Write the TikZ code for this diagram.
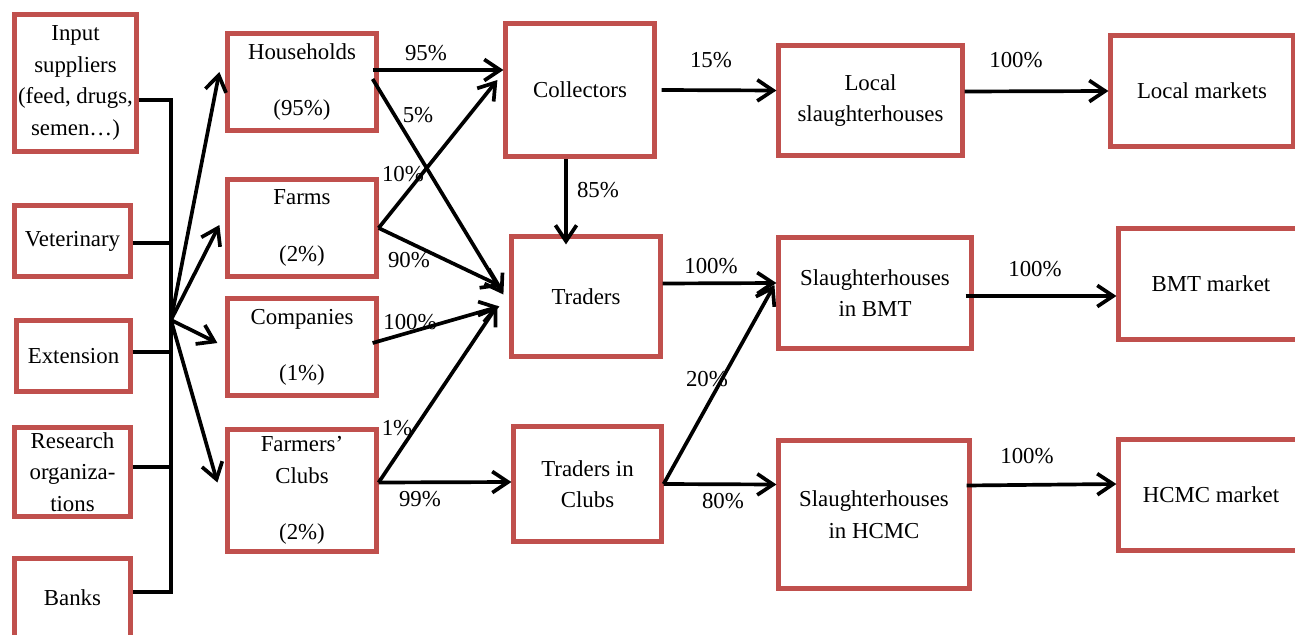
\documentclass[tikz,border=0pt]{standalone}
\usepackage{fontspec}
\setmainfont{Liberation Serif}
\usetikzlibrary{arrows.meta,calc}
\definecolor{boxred}{RGB}{192,80,77}
\tikzset{
    box/.style={draw=boxred,line width=2.4pt,align=center,inner sep=0pt,font=\fontsize{13}{18}\selectfont},
    sz/.style 2 args={minimum width=#1*0.02cm,minimum height=#2*0.02cm},
    flow/.style={->,line width=2.1pt},
    bus/.style={line width=2.1pt},
    pct/.style={inner sep=0pt,font=\fontsize{13}{15}\selectfont}
}

\begin{document}
\begin{tikzpicture}[x=0.02cm,y=-0.02cm,>={Straight Barb[length=9pt,width=12pt]}]
    \useasboundingbox (0,0) rectangle (1295,635);
    \clip (0,0) rectangle (1295,635);

    % support services
    \node[box,sz={122}{137}] (sup) at (75.5,83) {Input\\suppliers\\(feed, drugs,\\semen…)};
    \node[box,sz={116}{71}] (vet) at (72.5,241) {Veterinary};
    \node[box,sz={114}{71}] (ext) at (73.5,356) {Extension};
    \node[box,sz={116}{89}] (res) at (72.5,472) {Research\\organiza-\\tions};
    \node[box,sz={116}{79}] (bank) at (72.5,598) {Banks};

    % producers
    \node[box,sz={149}{97}] (hh) at (302,82) {Households\\[14pt](95\%)};
    \node[box,sz={149}{97}] (farm) at (302,228) {Farms\\[14pt](2\%)};
    \node[box,sz={149}{97}] (comp) at (302,347) {Companies\\[14pt](1\%)};
    \node[box,sz={149}{122}] (club) at (302,490.5) {Farmers’\\Clubs\\[14pt](2\%)};

    % middlemen
    \node[box,sz={149}{133}] (col) at (580,90) {Collectors};
    \node[box,sz={149}{120}] (trd) at (586,296.5) {Traders};
    \node[box,sz={148}{115}] (tic) at (587.5,484) {Traders in\\Clubs};

    % slaughterhouses and markets
    \node[box,sz={184}{110}] (lsl) at (870.5,100.5) {Local\\slaughterhouses};
    \node[box,sz={193}{111}] (sbmt) at (875,293) {Slaughterhouses\\in BMT};
    \node[box,sz={191}{148}] (shcm) at (874,514.5) {Slaughterhouses\\in HCMC};
    \node[box,sz={183}{111}] (lmk) at (1202,91) {Local markets};
    \node[box,sz={185}{111}] (bmk) at (1211,284) {BMT market};
    \node[box,sz={185}{111}] (hmk) at (1211,495) {HCMC market};

    % services bus
    \coordinate (hub) at (171,320);
    \coordinate (bustop) at (171,100);
    \coordinate (busbot) at (171,592);
    \draw[bus] ($(sup.east)+(0,17)$) -- (bustop) -- (busbot) -- ($(bank.east)+(0,-6)$);
    \draw[bus] ($(vet.east)+(0,2)$) -- ($(vet.east -| bustop)+(0,2)$);
    \draw[bus] ($(ext.east)+(0,-4)$) -- ($(ext.east -| bustop)+(0,-4)$);
    \draw[bus] ($(res.east)+(0,-5)$) -- ($(res.east -| bustop)+(0,-5)$);

    \draw[flow] (hub) -- ($(hh.west)+(-6,-10)$);
    \draw[flow] (hub) -- ($(farm.west)+(-6,-3)$);
    \draw[flow] (hub) -- ($(comp.west)+(-8,-4)$);
    \draw[flow] (hub) -- ($(club.west)+(-8,-8)$);

    % flows of animals
    \draw[flow] ($(hh.east)+(-6,-12)$) -- ($(col.west)+(0,-20)$);
    \draw[flow] ($(hh.east)+(-6,-3)$) -- ($(trd.west)+(-6,-2)$);
    \draw[flow] (farm.east) -- ($(col.west)+(-6,-10)$);
    \draw[flow] (farm.east) -- ($(trd.west)+(-8,-10)$);
    \draw[flow] ($(comp.east)+(-6,-4)$) -- ($(trd.west)+(-10,10)$);
    \draw[flow] ($(club.east)+(0,-8)$) -- ($(trd.west)+(-12,9)$);
    \draw[flow] ($(club.east)+(0,-8)$) -- ($(tic.west)+(0,-2)$);
    \draw[flow] ($(col.south)+(-14,0)$) -- ($(trd.north)+(-20,10)$);
    \draw[flow] ($(col.east)+(5,0)$) -- ($(lsl.west)+(0,-10)$);
    \draw[flow] ($(trd.east)+(0,-13)$) -- ($(sbmt.west)+(0,-10)$);
    \draw[flow] (tic.east) -- ($(sbmt.west)+(-2,-8)$);
    \draw[flow] (tic.east) -- ($(shcm.west)+(0,-30)$);
    \draw[flow] ($(lsl.east)+(0,-9)$) -- (lmk.west);
    \draw[flow] ($(sbmt.east)+(-8,3)$) -- ($(bmk.west)+(0,12)$);
    \draw[flow] ($(shcm.east)+(-5,-29)$) -- ($(hmk.west)+(0,-11)$);

    % shares
    \node[pct] (p95) at (426,53) {95\%};
    \node[pct] (p5) at (418,115) {5\%};
    \node[pct] (p10) at (403,174) {10\%};
    \node[pct] (p90) at (409,260) {90\%};
    \node[pct] (p100c) at (410,322) {100\%};
    \node[pct] (p1) at (397,428) {1\%};
    \node[pct] (p99) at (420,499) {99\%};
    \node[pct] (p85) at (598,190) {85\%};
    \node[pct] (p15) at (711,60) {15\%};
    \node[pct] (p100t) at (711,266) {100\%};
    \node[pct] (p20) at (707,379) {20\%};
    \node[pct] (p80) at (723,501) {80\%};
    \node[pct] (p100l) at (1016,60) {100\%};
    \node[pct] (p100b) at (1035,269) {100\%};
    \node[pct] (p100h) at (1027,456) {100\%};
\end{tikzpicture}
\end{document}
